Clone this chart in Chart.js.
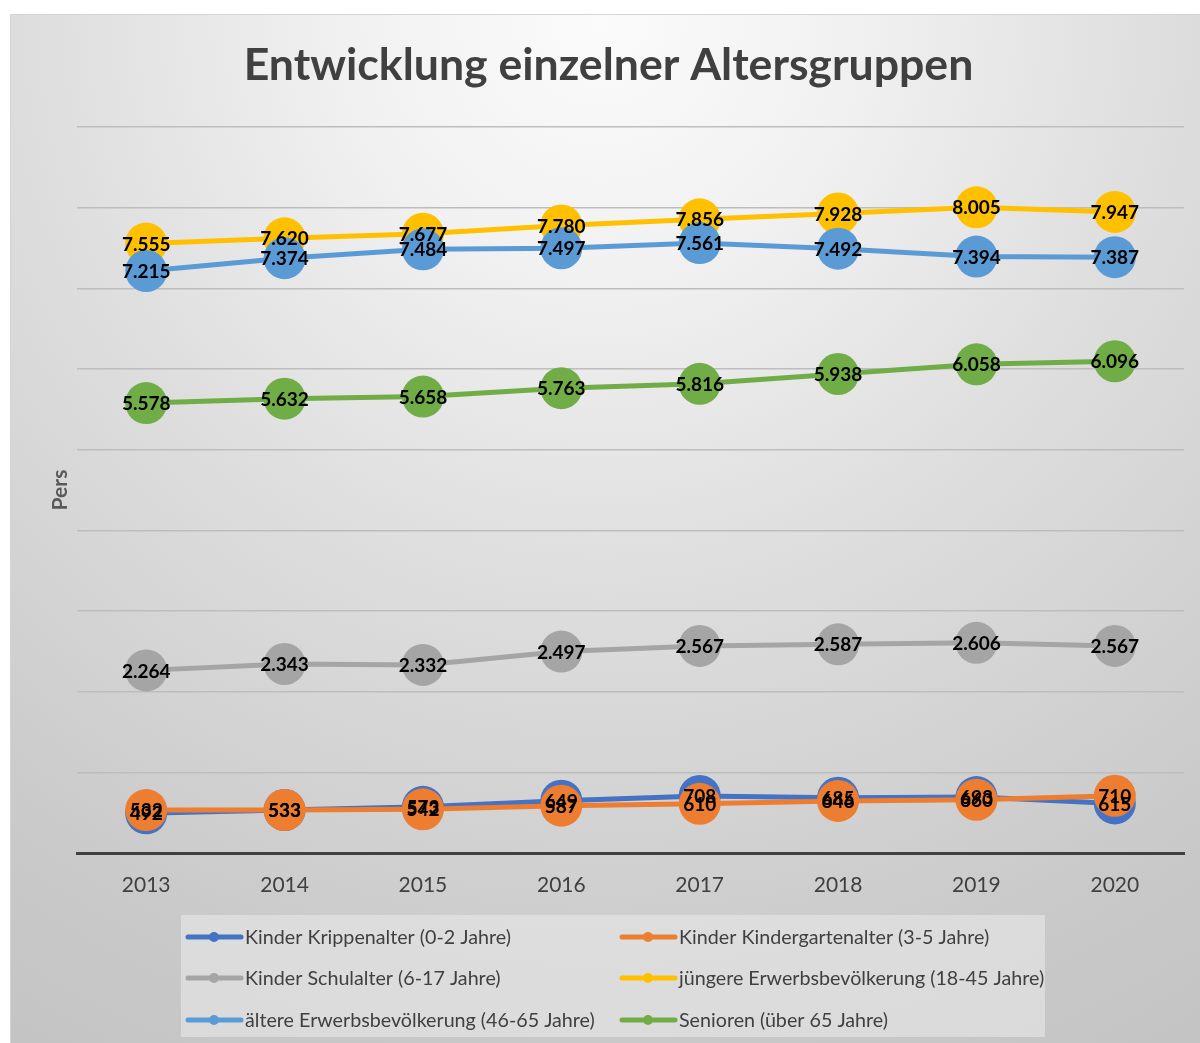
<!DOCTYPE html>
<html>
<head>
<meta charset="utf-8">
<script src="https://cdn.jsdelivr.net/npm/chart.js@4/dist/chart.umd.min.js"></script>
<style>
  html, body { margin: 0; padding: 0; background: #ffffff; }
  #wrap { width: 1200px; height: 1043px; position: relative; }
</style>
</head>
<body>
<div id="wrap"><canvas id="c" width="1200" height="1043"></canvas></div>
<script>
const chartTitle = 'Entwicklung einzelner Altersgruppen';
const yAxisTitle = 'Pers';
const years = ['2013', '2014', '2015', '2016', '2017', '2018', '2019', '2020'];
const krippe = [492, 533, 573, 649, 708, 685, 693, 615];
const kindergarten = [532, 533, 542, 587, 610, 646, 660, 710];
const schule = [2264, 2343, 2332, 2497, 2567, 2587, 2606, 2567];
const juengere = [7555, 7620, 7677, 7780, 7856, 7928, 8005, 7947];
const aeltere = [7215, 7374, 7484, 7497, 7561, 7492, 7394, 7387];
const senioren = [5578, 5632, 5658, 5763, 5816, 5938, 6058, 6096];
const seriesNames = [
  'Kinder Krippenalter (0-2 Jahre)',
  'Kinder Kindergartenalter (3-5 Jahre)',
  'Kinder Schulalter (6-17 Jahre)',
  'jüngere Erwerbsbevölkerung (18-45 Jahre)',
  'ältere Erwerbsbevölkerung (46-65 Jahre)',
  'Senioren (über 65 Jahre)'
];
const seriesValues = [krippe, kindergarten, schule, juengere, aeltere, senioren];
const seriesColors = ['#4472C4', '#ED7D31', '#A5A5A5', '#FFC000', '#5B9BD5', '#70AD47'];
const yMin = 0, yMax = 9000, yStep = 1000;

const FONT = 'Lato, "Open Sans", "DejaVu Sans", sans-serif';

function fmt(v) {
  return String(v).replace(/\B(?=(\d{3})+(?!\d))/g, '.');
}

const bgPlugin = {
  id: 'bg',
  beforeDraw(chart) {
    const ctx = chart.ctx;
    ctx.save();
    ctx.fillStyle = '#ffffff';
    ctx.fillRect(0, 0, chart.width, chart.height);
    const g = ctx.createRadialGradient(600, 20, 0, 600, 20, 1250);
    g.addColorStop(0, '#fbfbfb');
    g.addColorStop(0.2, '#f1f1f1');
    g.addColorStop(0.45, '#dedede');
    g.addColorStop(0.8, '#c9c9c9');
    g.addColorStop(1, '#c2c2c2');
    ctx.fillStyle = g;
    ctx.fillRect(10, 14, chart.width - 10, chart.height - 14);
    ctx.strokeStyle = '#d4d4d4';
    ctx.lineWidth = 1;
    ctx.strokeRect(10.5, 14.5, chart.width, chart.height);
    ctx.restore();
  }
};

const labelPlugin = {
  id: 'pointLabels',
  afterDatasetsDraw(chart) {
    const ctx = chart.ctx;
    ctx.save();
    ctx.font = 'bold 19px ' + FONT;
    ctx.fillStyle = '#000000';
    ctx.textAlign = 'center';
    ctx.textBaseline = 'middle';
    chart.data.datasets.forEach((ds, i) => {
      const meta = chart.getDatasetMeta(i);
      meta.data.forEach((pt, j) => {
        ctx.fillText(fmt(ds.data[j]), pt.x, pt.y + 1);
      });
    });
    ctx.restore();
  }
};

const legendPlugin = {
  id: 'gridLegend',
  afterDraw(chart) {
    const ctx = chart.ctx;
    ctx.save();
    ctx.fillStyle = 'rgba(235,235,235,0.55)';
    ctx.fillRect(181, 915, 864, 122);
    const colX = [186, 620];
    const rowY = [937, 978, 1020];
    ctx.font = '19.7px ' + FONT;
    ctx.textBaseline = 'middle';
    ctx.textAlign = 'left';
    chart.data.datasets.forEach((ds, i) => {
      const x = colX[i % 2];
      const y = rowY[Math.floor(i / 2)];
      ctx.strokeStyle = ds.borderColor;
      ctx.lineWidth = 5;
      ctx.lineCap = 'round';
      ctx.beginPath();
      ctx.moveTo(x + 2, y);
      ctx.lineTo(x + 55, y);
      ctx.stroke();
      ctx.fillStyle = ds.borderColor;
      ctx.beginPath();
      ctx.arc(x + 28, y, 5, 0, Math.PI * 2);
      ctx.fill();
      ctx.fillStyle = '#404040';
      ctx.fillText(ds.label, x + 59, y + 1);
    });
    ctx.restore();
  }
};

const datasets = seriesNames.map((name, i) => ({
  label: name,
  data: seriesValues[i],
  borderColor: seriesColors[i],
  backgroundColor: seriesColors[i],
  pointBackgroundColor: seriesColors[i],
  pointBorderColor: seriesColors[i],
  pointBorderWidth: 0,
  pointRadius: 21,
  pointHoverRadius: 21,
  borderWidth: 5,
  tension: 0,
  fill: false,
  clip: false,
  order: 10 - i
}));

new Chart(document.getElementById('c'), {
  type: 'line',
  data: { labels: years, datasets: datasets },
  plugins: [bgPlugin, labelPlugin, legendPlugin],
  options: {
    responsive: false,
    animation: false,
    events: [],
    layout: { autoPadding: false, padding: { left: 33, right: 16, top: 0, bottom: 130 } },
    plugins: {
      legend: { display: false },
      tooltip: { enabled: false },
      title: {
        display: true,
        text: chartTitle,
        color: '#404040',
        font: { family: FONT, size: 44.6, weight: 'bold', lineHeight: 1.2 },
        padding: { top: 39, bottom: 34.5 }
      }
    },
    scales: {
      x: {
        offset: true,
        grid: { display: false, drawTicks: false },
        border: { display: true, color: '#404040', width: 3 },
        ticks: { color: '#404040', font: { family: FONT, size: 21 }, padding: 20 },
        afterFit(s) { s.height = 60; s.paddingLeft = 0; s.paddingRight = 0; }
      },
      y: {
        min: yMin,
        max: yMax,
        ticks: { display: false, stepSize: yStep },
        grid: { color: '#bdbdbd', lineWidth: 1.5, drawTicks: false },
        border: { display: false },
        title: {
          display: true,
          text: yAxisTitle,
          color: '#595959',
          font: { family: FONT, size: 21, weight: 'bold', lineHeight: 1.2 },
          padding: { top: 14.5, bottom: 0 }
        },
        afterFit(s) { s.width = 44; }
      }
    }
  }
});
</script>
</body>
</html>
